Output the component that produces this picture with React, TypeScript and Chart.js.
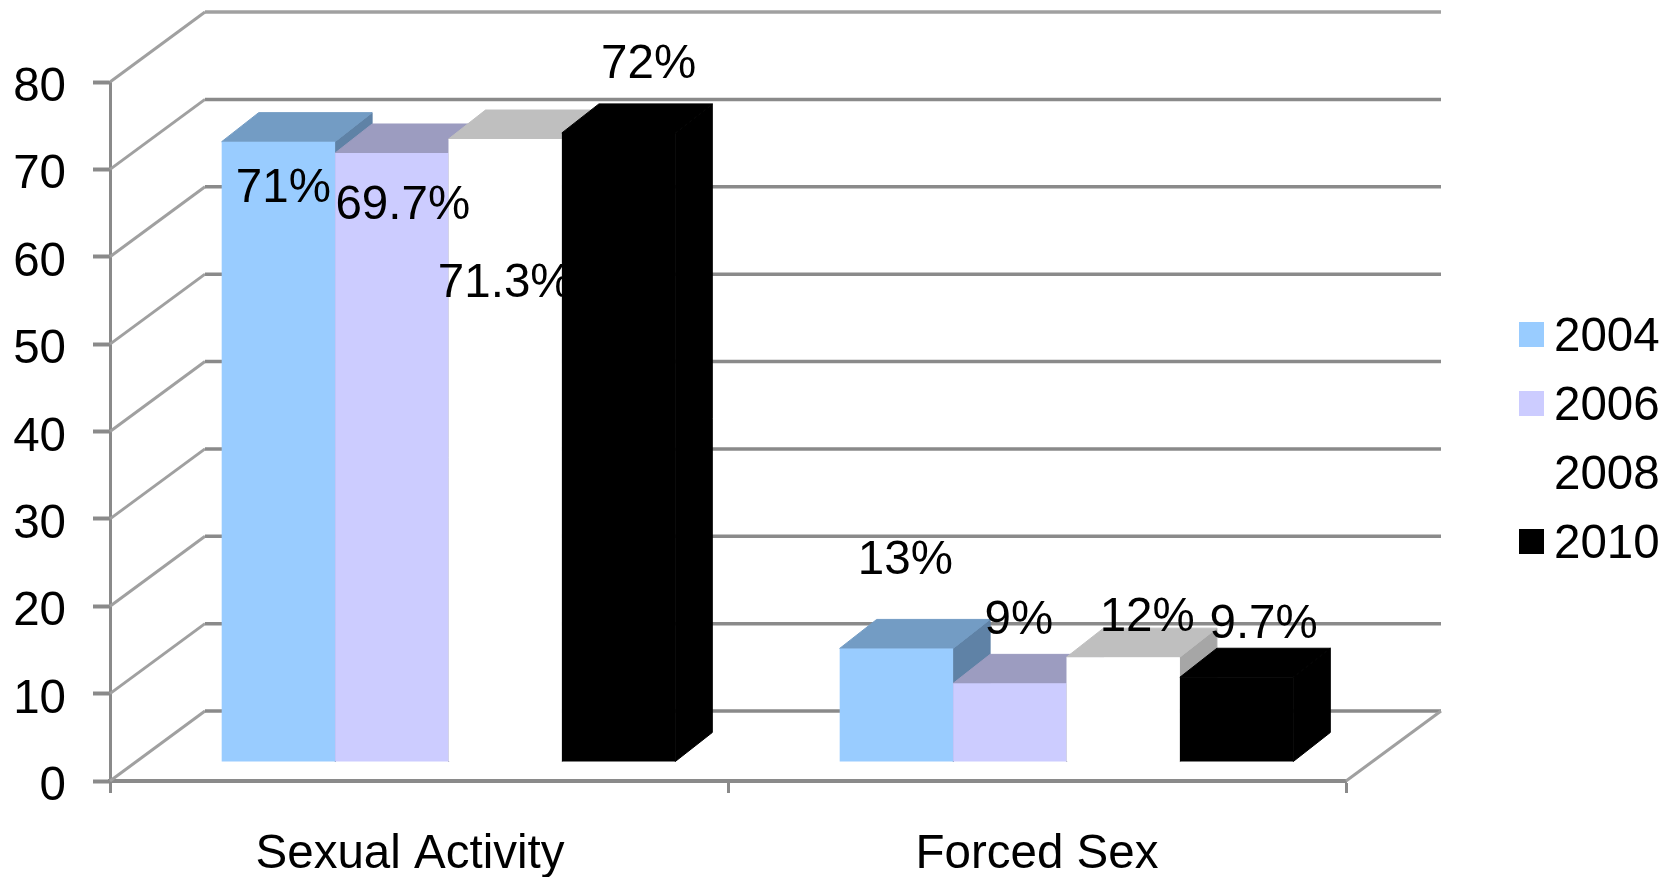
import React, { useEffect, useRef } from "react";
import { Chart, registerables } from "chart.js";

Chart.register(...registerables);

const categories = ["Sexual Activity", "Forced Sex"];
const years = ["2004", "2006", "2008", "2010"];
const values2004 = [71, 13];
const values2006 = [69.7, 9];
const values2008 = [71.3, 12];
const values2010 = [72, 9.7];
const yTicks = [0, 10, 20, 30, 40, 50, 60, 70, 80];

const FONT = '"Liberation Sans", Arial, sans-serif';
const FONT_SIZE = 47.5;
const LINE = "#8a8a8a";
const DIAG = "#a0a0a0";

const WALL_DX = 95;
const WALL_DY = 70;
const BAR_SHIFT_X = 29.5;
const BAR_SHIFT_Y = 19;
const BAR_DX = 37;
const BAR_DY = 29;

const faces = [
  { front: "#99CCFF", top: "#739CC4", side: "#5F82A6" },
  { front: "#CCCCFF", top: "#9C9CC0", side: "#8080A0" },
  { front: "#FFFFFF", top: "#BFBFBF", side: "#A6A6A6" },
  { front: "#000000", top: "#000000", side: "#000000" },
];

// manual placement of the data labels, relative to each bar's front top centre
const labelNudges = [
  [[5, 44], [9, -91]],
  [[11, 50], [9, -65]],
  [[0, 142], [24, -42]],
  [[30, -71], [27, -55]],
];

const poly = (ctx: CanvasRenderingContext2D, pts: number[][], fill: string) => {
  ctx.beginPath();
  pts.forEach(([x, y], i) => (i ? ctx.lineTo(x, y) : ctx.moveTo(x, y)));
  ctx.closePath();
  ctx.fillStyle = fill;
  ctx.strokeStyle = fill;
  ctx.lineWidth = 1;
  ctx.fill();
  ctx.stroke();
};

const depthPlugin = {
  id: "depth",
  beforeDraw(chart: any) {
    const xs = chart.scales.x;
    const items = xs.getLabelItems();
    items[0].options.translation[0] = xs.getPixelForTick(0) - 9;
    const ctx = chart.ctx;
    ctx.save();
    ctx.fillStyle = "#fff";
    ctx.fillRect(0, 0, chart.width, chart.height);
    ctx.restore();
  },
  // Bars are painted left to right (each one hides its left neighbour's side),
  // the opposite of the library's default dataset order, so the loop is done here.
  beforeDatasetsDraw(chart: any) {
    const { ctx, chartArea, scales } = chart;
    const { left, right } = chartArea;
    ctx.save();
    yTicks.forEach((t) => {
      const y = scales.y.getPixelForValue(t);
      ctx.strokeStyle = DIAG;
      ctx.lineWidth = 3;
      ctx.beginPath();
      ctx.moveTo(left, y);
      ctx.lineTo(left + WALL_DX, y - WALL_DY);
      ctx.stroke();
      ctx.strokeStyle = t === 80 ? DIAG : LINE;
      ctx.lineWidth = 3.5;
      ctx.beginPath();
      ctx.moveTo(left + WALL_DX, y - WALL_DY);
      ctx.lineTo(right + WALL_DX, y - WALL_DY);
      ctx.stroke();
    });
    const y0 = scales.y.getPixelForValue(0);
    ctx.strokeStyle = DIAG;
    ctx.lineWidth = 3;
    ctx.beginPath();
    ctx.moveTo(right, y0);
    ctx.lineTo(right + WALL_DX, y0 - WALL_DY);
    ctx.stroke();

    chart.data.datasets.forEach((_ds: any, i: number) => {
      const meta = chart.getDatasetMeta(i);
      const f = faces[i];
      ctx.save();
      ctx.translate(BAR_SHIFT_X, -BAR_SHIFT_Y);
      meta.data.forEach((bar: any) => {
        const l = bar.x - bar.width / 2;
        const r = bar.x + bar.width / 2;
        const t = bar.y;
        const b = bar.base;
        poly(ctx, [[r, t], [r + BAR_DX, t - BAR_DY], [r + BAR_DX, b - BAR_DY], [r, b]], f.side);
        poly(ctx, [[l, t], [l + BAR_DX, t - BAR_DY], [r + BAR_DX, t - BAR_DY], [r, t]], f.top);
      });
      meta.controller.draw();
      ctx.restore();
    });

    ctx.font = `${FONT_SIZE}px ${FONT}`;
    ctx.fillStyle = "#000";
    ctx.textAlign = "center";
    ctx.textBaseline = "middle";
    chart.data.datasets.forEach((ds: any, i: number) => {
      chart.getDatasetMeta(i).data.forEach((bar: any, j: number) => {
        const [nx, ny] = labelNudges[i][j];
        ctx.fillText(`${ds.data[j]}%`, bar.x + BAR_SHIFT_X + nx, bar.y - BAR_SHIFT_Y + ny + 3);
      });
    });
    // legend
    ctx.textAlign = "left";
    chart.data.datasets.forEach((ds: any, i: number) => {
      const cy = 334.5 + i * 69;
      ctx.fillStyle = ds.backgroundColor;
      ctx.fillRect(1519, cy - 12.5, 25, 25);
      ctx.fillStyle = "#000";
      ctx.fillText(ds.label, 1554, cy + 3);
    });
    ctx.restore();
    return false;
  },
};

export default function App() {
  const ref = useRef<HTMLCanvasElement>(null);
  useEffect(() => {
    if (!ref.current) return;
    const series = [values2004, values2006, values2008, values2010];
    const chart = new Chart(ref.current, {
      type: "bar",
      data: {
        labels: categories,
        datasets: series.map((data, i) => ({
          label: years[i],
          data,
          backgroundColor: faces[i].front,
          borderWidth: 0,
          categoryPercentage: 0.734,
          barPercentage: 1,
        })),
      },
      options: {
        animation: false,
        responsive: false,
        layout: { padding: { top: 82, right: 325, bottom: 0, left: 0 } },
        plugins: {
          legend: { display: false },
          tooltip: { enabled: false },
        },
        scales: {
          x: {
            afterFit: (s: any) => {
              s.height = 96;
            },
            border: { display: true, color: LINE, width: 4 },
            grid: {
              drawOnChartArea: false,
              drawTicks: true,
              tickLength: 12,
              tickWidth: 3,
              tickColor: LINE,
              color: LINE,
            },
            ticks: {
              color: "#000",
              padding: 33,
              maxRotation: 0,
              font: { family: FONT, size: FONT_SIZE },
            },
          },
          y: {
            min: 0,
            max: 80,
            afterFit: (s: any) => {
              s.width = 110;
            },
            border: { display: true, color: LINE, width: 3 },
            grid: {
              drawOnChartArea: false,
              drawTicks: true,
              tickLength: 17,
              tickWidth: 4,
              tickColor: LINE,
              color: LINE,
            },
            ticks: {
              color: "#000",
              stepSize: 10,
              padding: 27,
              labelOffset: 6,
              font: { family: FONT, size: FONT_SIZE },
            },
          },
        },
      },
      plugins: [depthPlugin as any],
    });
    return () => chart.destroy();
  }, []);
  return (
    <canvas
      ref={ref}
      width={1671}
      height={877}
      style={{ position: "absolute", left: 0, top: 0, display: "block" }}
    />
  );
}
